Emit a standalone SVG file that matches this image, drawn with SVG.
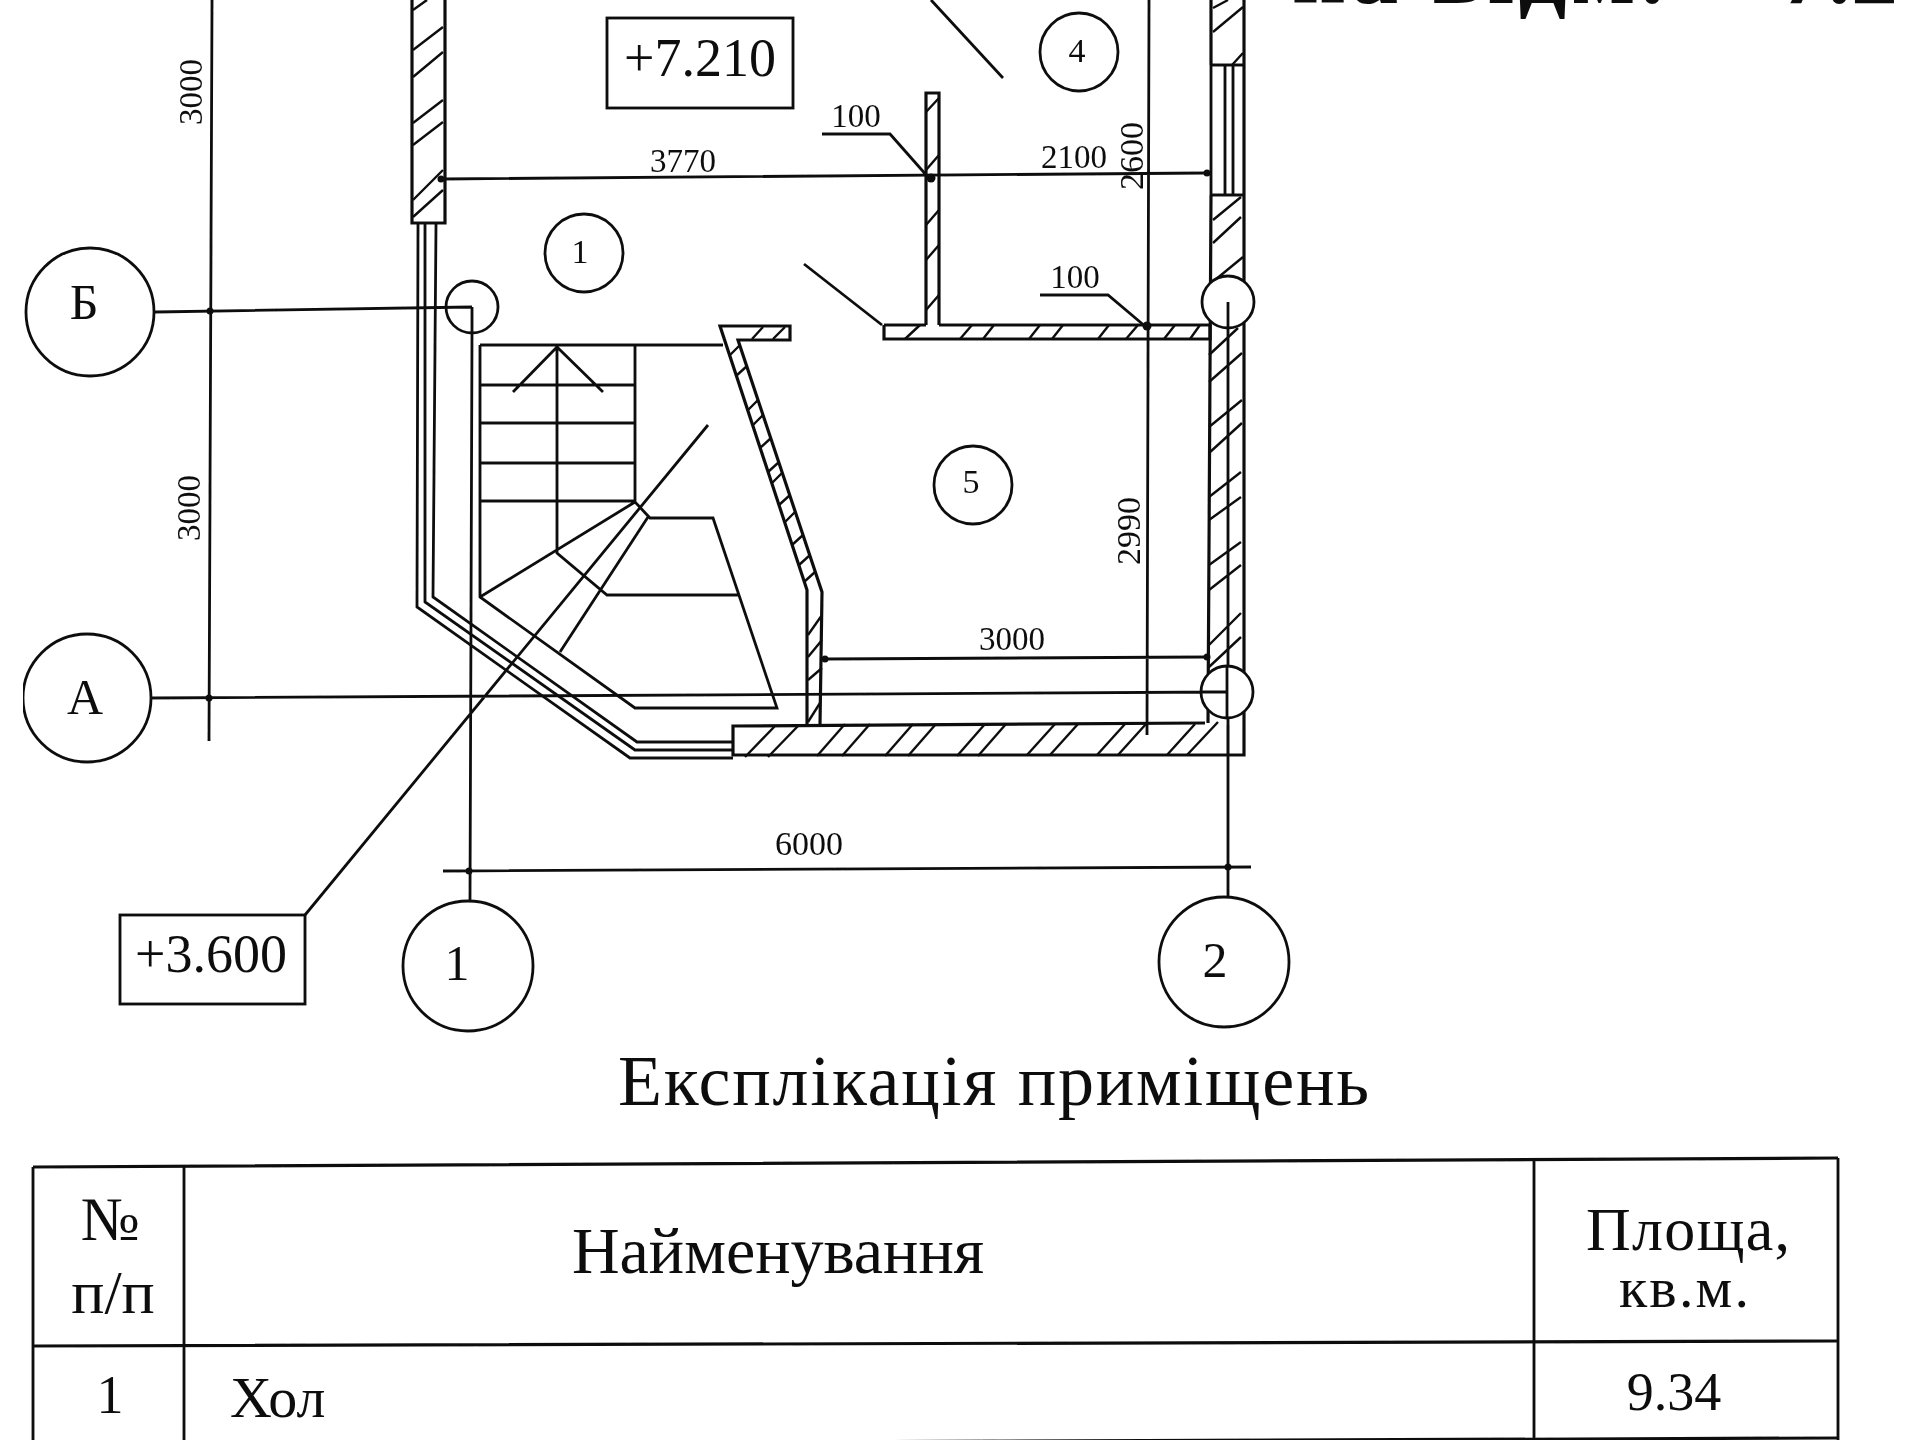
<svg xmlns="http://www.w3.org/2000/svg" width="1920" height="1440" viewBox="0 0 1920 1440">
<style>
text{font-family:"Liberation Serif","Times New Roman",serif;fill:#111}
.l{fill:none;stroke:#111;stroke-width:2.8;stroke-linejoin:miter}
.t{fill:none;stroke:#111;stroke-width:2.4}
.w{fill:none;stroke:#111;stroke-width:3.2}
.c{fill:#fff;stroke:#111;stroke-width:2.8}
.d{fill:#111;stroke:none}
.s33{font-size:33px}
.s34{font-size:34px}
</style>
<defs><filter id="scan" x="0" y="0" width="100%" height="100%"><feGaussianBlur stdDeviation="0.6"/></filter></defs>
<rect width="1920" height="1440" fill="#fff"/>
<g filter="url(#scan)">
<g id="walls">
<path class="w" d="M412 0V223H445V0"/>
<path class="t" d="M413 10L427 0M413 50L443 27M413 77L443 52M413 123L443 100M413 145L443 122M413 200L443 170M413 217L443 190"/>
<path class="l" d="M418 223L417 607L630 758H733M425 223V602L635 750H733M436 223L433 597L637 742H733"/>
<path class="w" d="M1211 0V65M1244 0V755H733V726L1205 723M1211 65H1244M1211 195H1244M1211 195L1208 723"/>
<path class="l" d="M1211 65V195M1233 65V195M1225 65V195"/>
<path class="t" d="M1213 32L1243 7M1213 8L1228 0M1232 65L1243 53M1213 220L1241 197M1213 243L1241 217M1215 280L1243 257M1209 355L1238 328M1209 382L1242 353M1209 427L1242 400M1209 453L1242 423M1209 497L1241 472M1209 520L1241 497M1209 565L1241 542M1209 590L1241 565M1209 645L1241 613M1209 667L1241 637M1228 725V755"/>
<path class="t" d="M745 757L775 726M768 757L798 726M817 756L845 724M842 756L870 724M885 756L913 724M908 756L936 724M957 756L985 724M978 756L1006 724M1027 755L1055 724M1050 755L1078 724M1097 755L1125 724M1118 755L1146 724M1167 755L1195 724M1187 755L1218 722"/>
<path class="w" d="M926 325V93H939V325M884 325H926M939 325H1210V339H884V325"/>
<path class="t" d="M926 112L939 98M926 170L939 155M926 225L939 210M926 260L939 245M926 310L939 295"/>
<path class="t" d="M905 339L920 325M960 339L972 325M983 339L994 325M1029 339L1040 325M1052 339L1063 325M1098 339L1109 325M1126 339L1138 325M1164 339L1175 325M1190 339L1200 325"/>
<path class="w" d="M807 725V590L720 326H790V340H738L822 592L820 725"/>
<path class="t" d="M752 339L763 327M773 339L785 327M730 355L740 345M736 376L747 366M748 410L758 400M753 425L763 415M760 448L771 438M768 472L779 462M772 483L782 473M779 505L790 495M785 522L795 512M792 545L803 535M799 565L810 555M804 582L815 572M808 635L822 615M808 657L822 640M808 680L822 668M808 722L820 703"/>
</g>
<g id="stairs">
<path class="l" d="M480 345V597L635 708H777L713 518H650L635 502V345M480 345H723M480 385H635M480 423H635M480 463H635M480 501H635M557 345V553L607 595H738M480 597L635 502M648 517L560 652M513 392L557 347L603 392"/>
</g>
<g id="connectors">
<path class="l" d="M212 0L209 741M155 312L472 307M472 307V330L470 903M150 698L1227 692M1228 302V897M443 871L1251 867M442 179L1207 173M1149 0L1147 735M825 659L1207 657M305 915L708 425M931 0L1003 78M804 264L882 325M822 134H890L928 177M1040 295H1108L1146 327"/>
<circle class="d" cx="931" cy="178" r="4.5"/><circle class="d" cx="441" cy="179" r="3.5"/><circle class="d" cx="1147" cy="326" r="4.5"/><circle class="d" cx="209" cy="698" r="3.5"/><circle class="d" cx="210" cy="311" r="3.5"/><circle class="d" cx="469" cy="871" r="3.5"/><circle class="d" cx="1228" cy="867" r="3.5"/><circle class="d" cx="825" cy="659" r="3.5"/><circle class="d" cx="1207" cy="657" r="3.5"/><circle class="d" cx="1207" cy="173" r="3.5"/>
</g>
<g id="axis-small">
<circle class="l" cx="472" cy="307" r="26"/>
<circle class="c" cx="1228" cy="302" r="26"/>
<path class="l" d="M1228 302V328"/>
<circle class="c" cx="1227" cy="692" r="26"/>
<path class="l" d="M1201 692H1227M1227 666V718"/>
</g>
<g id="axis-B"><circle class="c" cx="90" cy="312" r="64"/><text x="84" y="319" font-size="50" text-anchor="middle">Б</text></g>
<g id="axis-A"><circle class="c" cx="87" cy="698" r="64"/><text x="85" y="714" font-size="50" text-anchor="middle">А</text></g>
<g id="axis-1"><circle class="c" cx="468" cy="966" r="65"/><text x="457" y="980" font-size="50" text-anchor="middle">1</text></g>
<g id="axis-2"><circle class="c" cx="1224" cy="962" r="65"/><text x="1215" y="977" font-size="50" text-anchor="middle">2</text></g>
<g id="room-1"><circle class="l" cx="584" cy="253" r="39"/><text x="580" y="263" class="s34" text-anchor="middle">1</text></g>
<g id="room-4"><circle class="l" cx="1079" cy="52" r="39"/><text x="1077" y="62" class="s34" text-anchor="middle">4</text></g>
<g id="room-5"><circle class="l" cx="973" cy="485" r="39"/><text x="971" y="493" class="s34" text-anchor="middle">5</text></g>
<g id="level-7210"><rect class="l" x="607" y="18" width="186" height="90"/><text x="700" y="76" font-size="54" text-anchor="middle">+7.210</text></g>
<g id="level-3600"><rect class="l" x="120" y="915" width="185" height="89"/><text x="211" y="972" font-size="54" text-anchor="middle">+3.600</text></g>
<g id="dimensions">
<text x="683" y="172" class="s33" text-anchor="middle">3770</text>
<text x="1074" y="168" class="s33" text-anchor="middle">2100</text>
<text x="856" y="127" class="s33" text-anchor="middle">100</text>
<text x="1075" y="288" class="s33" text-anchor="middle">100</text>
<text x="1012" y="650" class="s33" text-anchor="middle">3000</text>
<text x="809" y="855" class="s34" text-anchor="middle">6000</text>
<text transform="translate(202 92) rotate(-90)" class="s33" text-anchor="middle">3000</text>
<text transform="translate(200 508) rotate(-90)" class="s33" text-anchor="middle">3000</text>
<text transform="translate(1143 156) rotate(-90)" class="s34" text-anchor="middle">2600</text>
<text transform="translate(1140 531) rotate(-90)" class="s34" text-anchor="middle">2990</text>
</g>
<g id="heading">
<text x="1292" y="3" font-size="94" font-weight="700" textLength="372">на відм.</text>
<text x="1898" y="3" font-size="94" font-weight="700" text-anchor="end">+7.2</text>
</g>
<g id="table">
<text x="618" y="1105" font-size="72" textLength="751">Експлікація приміщень</text>
<path class="w" d="M33 1167L1838 1158M33 1346L1838 1341M33 1445L1838 1438"/>
<path class="l" d="M33 1167V1440M184 1167V1440M1534 1158V1440M1838 1158V1440"/>
<text x="110" y="1240" font-size="62" text-anchor="middle">№</text>
<text x="113" y="1313" font-size="62" text-anchor="middle">п/п</text>
<text x="778" y="1273" font-size="66" text-anchor="middle">Найменування</text>
<text x="1688" y="1250" font-size="62" text-anchor="middle" textLength="204">Площа,</text>
<text x="1684" y="1307" font-size="58" text-anchor="middle" textLength="130">кв.м.</text>
<text x="110" y="1413" font-size="54" text-anchor="middle">1</text>
<text x="230" y="1417" font-size="58">Хол</text>
<text x="1674" y="1410" font-size="54" text-anchor="middle">9.34</text>
</g>
</g>
</svg>
